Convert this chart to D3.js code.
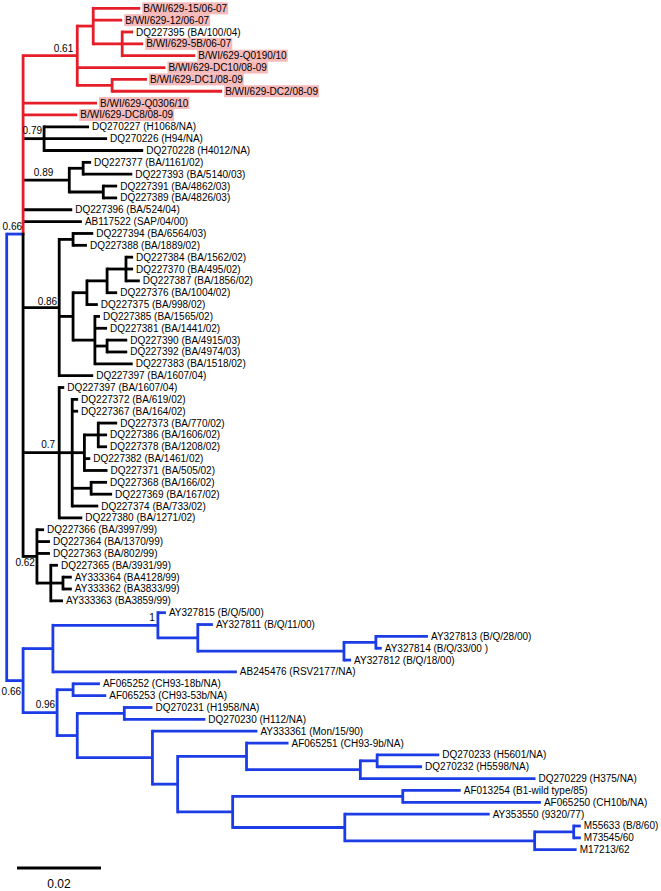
<!DOCTYPE html>
<html><head><meta charset="utf-8">
<script src="https://cdn.jsdelivr.net/npm/d3@7"></script>
<style>body{margin:0;background:#fff}</style>
</head><body>
<svg id="chart" width="661" height="891"></svg>
<script>
// ---------------- DATA ----------------
const leafNames = [
  "B/WI/629-15/06-07","B/WI/629-12/06-07","DQ227395 (BA/100/04)","B/WI/629-5B/06-07",
  "B/WI/629-Q0190/10","B/WI/629-DC10/08-09","B/WI/629-DC1/08-09","B/WI/629-DC2/08-09",
  "B/WI/629-Q0306/10","B/WI/629-DC8/08-09","DQ270227 (H1068/NA)","DQ270226 (H94/NA)",
  "DQ270228 (H4012/NA)","DQ227377 (BA/1161/02)","DQ227393 (BA/5140/03)","DQ227391 (BA/4862/03)",
  "DQ227389 (BA/4826/03)","DQ227396 (BA/524/04)","AB117522 (SAP/04/00)","DQ227394 (BA/6564/03)",
  "DQ227388 (BA/1889/02)","DQ227384 (BA/1562/02)","DQ227370 (BA/495/02)","DQ227387 (BA/1856/02)",
  "DQ227376 (BA/1004/02)","DQ227375 (BA/998/02)","DQ227385 (BA/1565/02)","DQ227381 (BA/1441/02)",
  "DQ227390 (BA/4915/03)","DQ227392 (BA/4974/03)","DQ227383 (BA/1518/02)","DQ227397 (BA/1607/04)",
  "DQ227397 (BA/1607/04)","DQ227372 (BA/619/02)","DQ227367 (BA/164/02)","DQ227373 (BA/770/02)",
  "DQ227386 (BA/1606/02)","DQ227378 (BA/1208/02)","DQ227382 (BA/1461/02)","DQ227371 (BA/505/02)",
  "DQ227368 (BA/166/02)","DQ227369 (BA/167/02)","DQ227374 (BA/733/02)","DQ227380 (BA/1271/02)",
  "DQ227366 (BA/3997/99)","DQ227364 (BA/1370/99)","DQ227363 (BA/802/99)","DQ227365 (BA/3931/99)",
  "AY333364 (BA4128/99)","AY333362 (BA3833/99)","AY333363 (BA3859/99)","AY327815 (B/Q/5/00)",
  "AY327811 (B/Q/11/00)","AY327813 (B/Q/28/00)","AY327814 (B/Q/33/00 )","AY327812 (B/Q/18/00)",
  "AB245476 (RSV2177/NA)","AF065252 (CH93-18b/NA)","AF065253 (CH93-53b/NA)","DQ270231 (H1958/NA)",
  "DQ270230 (H112/NA)","AY333361 (Mon/15/90)","AF065251 (CH93-9b/NA)","DQ270233 (H5601/NA)",
  "DQ270232 (H5598/NA)","DQ270229 (H375/NA)","AF013254 (B1-wild type/85)","AF065250 (CH10b/NA)",
  "AY353550 (9320/77)","M55633 (B/8/60)","M73545/60","M17213/62"
];

// topology with branch lengths (leaf ids index leafNames)
const newick = `(
 (
  ((0:0.0112,1:0.0069,(2:0.0026,3:0.0050,4:0.0174)N122:0.0069)N93:0.0038,5:0.0210,(6:0.0083,7:0.0262)N112:0.0083)N061:0.0129,
  8:0.0176,
  9:0.0129,
  (10:0.0107,11:0.0150,12:0.0236)N079:0.0050,
  ((13:0.0019,14:0.0117)Na:0.0033,(15:0.0033,16:0.0033)Nb:0.0081)N089:0.0110,
  17:0.0117,
  18:0.0140,
  ((19:0.0048,20:0.0033)A:0.0033,((((21:0.0017,22:0.0017,23:0.0033)E:0.0045,24:0.0024)D:0.0048,25:0.0026)C:0.0033,(26:0.0012,27:0.0029,(28:0.0048,29:0.0048)G:0.0029,30:0.0090)F:0.0052)B:0.0033,31:0.0081)N086:0.0086,
  (32:0.0012,(33:0.0014,34:0.0014,((35:0.0045,36:0.0021,37:0.0021)L:0.0033,38:0.0014,39:0.0055)J:0.0029,(40:0.0038,41:0.0050)K:0.0045,42:0.0062)I:0.0031,43:0.0055)N07:0.0086,
  (44:0.0017,45:0.0031,46:0.0031,(47:0.0017,(48:0.0021,49:0.0021)N:0.0029,50:0.0029)M:0.0033)N062:0.0033
 )N1:0.0039,
 (
  ((51:0.0019,(52:0.0036,((53:0.0124,54:0.0014)T:0.0076,55:0.0017)S:0.0348)R:0.0095)Q:0.0250,56:0.0438)P:0.0071,
  ((57:0.0064,58:0.0079)U:0.0038,((59:0.0067,60:0.0193)W:0.0112,(61:0.0250,((62:0.0100,((63:0.0148,64:0.0107)AC:0.0040,65:0.0417)AB:0.0271)Z:0.0164,((66:0.0138,67:0.0329)AD:0.0405,(68:0.0345,((69:0.0017,70:0.0017)AG:0.0093,71:0.0100)AF:0.0452)AE:0.0267)AA:0.0131)Y:0.0060)X:0.0179)V:0.0048)N096:0.0081
 )N2:0.0039
)root;`;

const supportNodes  = ["N061","N079","N089","N086","N07","N062","N1","N2","N096","Q"];
const supportValues = ["0.61","0.79","0.89","0.86","0.7","0.62","0.66","0.66","0.96","1"];

const highlightedLeaves = [0,1,3,4,5,6,7,8,9];

const cladeNodes  = ["root","N1","N061","8","9"];
const cladeGroups = ["blue","black","red","red","red"];

const scaleBarValue = 0.02;
const scaleBarLabel = "0.02";

// ---------------- STYLE ----------------
const palette = {blue:"#1c3de6", black:"#000000", red:"#e61e2a"};
const highlightFill = "#f6b9b9";
const stemOverride = {N1:"blue"};          // branch leading to N1 drawn blue
const upperVertical = {N1:"red"};          // upper half of N1 connector drawn red
const lw = 2.8;
const font = "'Liberation Sans', Arial, Helvetica, sans-serif";
const supportOffsets = {
  N061:[-4,-3.5], N079:[-2,-4.5], N089:[-16,-4], N086:[-2,-3], N07:[-4,-4.5],
  N062:[-2,9.5], N1:[-1,-4], N2:[-2,14], N096:[-2,-5], Q:[-3,-4]
};

// ---------------- PARSE ----------------
function parseNewick(str){
  str = str.replace(/\s+/g,"");
  let i = 0;
  function node(){
    const n = {};
    if (str[i] === "("){
      i++; n.children = [node()];
      while (str[i] === ","){ i++; n.children.push(node()); }
      i++;
    }
    let name = "";
    while (i < str.length && !",():;".includes(str[i])) name += str[i++];
    n.name = name;
    n.length = 0;
    if (str[i] === ":"){
      i++; let len = "";
      while (i < str.length && !",();".includes(str[i])) len += str[i++];
      n.length = +len;
    }
    return n;
  }
  return node();
}

const root = d3.hierarchy(parseNewick(newick));
root.eachBefore(n => { n.dist = n.parent ? n.parent.dist + n.data.length : 0; });

const leaves = root.leaves();
const y = d3.scaleLinear().domain([0, leaves.length - 1]).range([8.3, 849.7]);
const x = d3.scaleLinear().domain([0, scaleBarValue]).range([6.7, 6.7 + 84]);

leaves.forEach((l, i) => { l.yv = y(i); });
root.eachAfter(n => {
  if (n.children){
    const ys = n.children.map(c => c.yv);
    n.yv = n.children.length > 5 ? d3.mean(ys) : (ys[0] + ys[ys.length - 1]) / 2;
  }
});

const cladeMap = new Map(cladeNodes.map((k, i) => [k, cladeGroups[i]]));
root.eachBefore(n => {
  n.group = cladeMap.get(n.data.name) || (n.parent ? n.parent.group : "black");
});

// ---------------- DRAW ----------------
const svg = d3.select("#chart");
svg.append("rect").attr("width",661).attr("height",891).attr("fill","#fff");
const gBranch = svg.append("g");
const gLabel = svg.append("g").attr("font-family", font).attr("font-size", 10).attr("fill","#000");

// horizontal branches
root.descendants().filter(n => n.parent).forEach(n => {
  const g = stemOverride[n.data.name] || n.group;
  gBranch.append("line")
    .attr("x1", x(n.parent.dist)).attr("x2", x(n.dist))
    .attr("y1", n.yv).attr("y2", n.yv)
    .attr("stroke", palette[g]).attr("stroke-width", lw);
});

// vertical connectors
root.descendants().filter(n => n.children).forEach(n => {
  const y1 = n.children[0].yv, y2 = n.children[n.children.length - 1].yv;
  const xx = x(n.dist);
  const up = upperVertical[n.data.name];
  if (up){
    gBranch.append("line").attr("x1",xx).attr("x2",xx).attr("y1",y1).attr("y2",n.yv)
      .attr("stroke",palette[up]).attr("stroke-width",lw).attr("stroke-linecap","square");
    gBranch.append("line").attr("x1",xx).attr("x2",xx).attr("y1",n.yv).attr("y2",y2)
      .attr("stroke",palette[n.group]).attr("stroke-width",lw).attr("stroke-linecap","square");
  } else {
    gBranch.append("line").attr("x1",xx).attr("x2",xx).attr("y1",y1).attr("y2",y2)
      .attr("stroke",palette[n.group]).attr("stroke-width",lw).attr("stroke-linecap","square");
  }
});

// leaf labels
leaves.forEach(l => {
  const idx = +l.data.name;
  const tx = x(l.dist) + 3;
  const t = gLabel.append("text").attr("x", tx).attr("y", l.yv).attr("dy","0.35em").text(leafNames[idx]);
  if (highlightedLeaves.includes(idx)){
    const w = t.node().getComputedTextLength();
    gLabel.insert("rect", "text")
      .attr("x", tx - 1).attr("y", l.yv - 6).attr("width", w + 2).attr("height", 12)
      .attr("fill", highlightFill);
  }
});
gLabel.selectAll("text").raise();

// support values
const byName = new Map(root.descendants().map(n => [n.data.name, n]));
supportNodes.forEach((k, i) => {
  const n = byName.get(k);
  const off = supportOffsets[k] || [-2,-4];
  gLabel.append("text").attr("x", x(n.dist) + off[0]).attr("y", n.yv + off[1])
    .attr("text-anchor","end").text(supportValues[i]);
});

// scale bar
const sbx = 17, sby = 868;
svg.append("line").attr("x1", sbx).attr("x2", sbx + x(scaleBarValue) - x(0))
  .attr("y1", sby).attr("y2", sby).attr("stroke","#000").attr("stroke-width", lw);
svg.append("text").attr("x", sbx + (x(scaleBarValue) - x(0)) / 2).attr("y", 888)
  .attr("text-anchor","middle").attr("font-family", font).attr("font-size", 12).text(scaleBarLabel);
</script>
</body></html>
